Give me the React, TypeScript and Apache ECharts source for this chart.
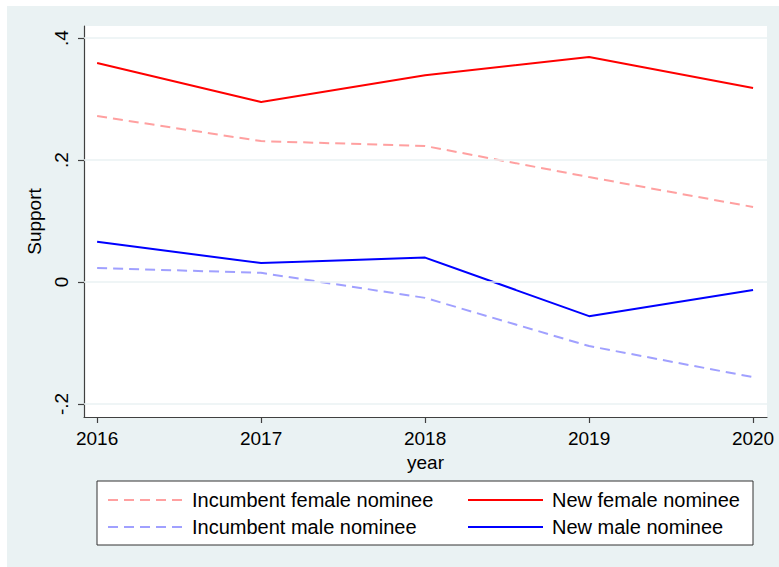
import React, { useEffect, useRef } from "react";
import * as echarts from "echarts";

const years = [2016, 2017, 2018, 2019, 2020];
const incumbentFemale = [0.272, 0.231, 0.223, 0.172, 0.123];
const newFemale = [0.359, 0.295, 0.339, 0.369, 0.318];
const incumbentMale = [0.023, 0.015, -0.026, -0.105, -0.156];
const newMale = [0.066, 0.031, 0.040, -0.056, -0.013];
const yTicks = [-0.2, 0, 0.2, 0.4];
const yTickLabels = ["-.2", "0", ".2", ".4"];

const FONT = "'Liberation Sans', Arial, sans-serif";

export default function App() {
  const ref = useRef<HTMLDivElement>(null);
  useEffect(() => {
    if (!ref.current) return;
    const chart = echarts.init(ref.current, undefined, { renderer: "svg" });
    const pair = (arr: number[]) => years.map((y, i) => [y, arr[i]]);
    const mkLegend = (name: string, left: number, top: number) => ({
      show: true,
      data: [name],
      left,
      top,
      itemWidth: 75,
      itemHeight: 14,
      padding: 0,
      itemStyle: { opacity: 0, borderWidth: 0 },
      textStyle: { fontFamily: FONT, fontSize: 20, color: "#000", padding: [0, 0, 0, 4] },
    });
    chart.setOption({
      animation: false,
      backgroundColor: "#EAF2F3",
      textStyle: { fontFamily: FONT },
      grid: {
        left: 77,
        top: 20,
        right: 12,
        bottom: 150,
        show: true,
        backgroundColor: "#ffffff",
        borderWidth: 0,
        containLabel: false,
      },
      graphic: [
        {
          type: "rect",
          shape: { x: 90, y: 475, width: 656, height: 64 },
          style: { fill: "#ffffff", stroke: "#333333", lineWidth: 1 },
          z: 0,
        },
      ],
      legend: [
        mkLegend("Incumbent female nominee", 100, 484),
        mkLegend("New female nominee", 460, 484),
        mkLegend("Incumbent male nominee", 100, 511),
        mkLegend("New male nominee", 460, 511),
      ],
      xAxis: {
        type: "value",
        min: 2015.92,
        max: 2020.085,
        name: "year",
        nameLocation: "middle",
        nameGap: 35,
        nameTextStyle: { fontFamily: FONT, fontSize: 19, color: "#000" },
        axisLine: { show: true, onZero: false, lineStyle: { color: "#404040", width: 1.2 } },
        axisTick: { show: true, length: 6, customValues: years, lineStyle: { color: "#404040", width: 1.2 } },
        axisLabel: {
          customValues: years,
          formatter: (v: number) => String(v),
          fontFamily: FONT,
          fontSize: 19,
          color: "#000",
          margin: 12,
        },
        splitLine: { show: false },
      },
      yAxis: {
        type: "value",
        min: -0.2213,
        max: 0.4197,
        name: "Support",
        nameLocation: "middle",
        nameGap: 34,
        nameTextStyle: { fontFamily: FONT, fontSize: 19, color: "#000" },
        axisLine: { show: true, onZero: false, lineStyle: { color: "#404040", width: 1.2 } },
        axisTick: { show: true, length: 6, customValues: yTicks, lineStyle: { color: "#404040", width: 1.2 } },
        axisLabel: {
          customValues: yTicks,
          formatter: (v: number) => {
            const i = yTicks.findIndex((t) => Math.abs(t - v) < 1e-9);
            return i >= 0 ? yTickLabels[i] : "";
          },
          rotate: 90,
          fontFamily: FONT,
          fontSize: 19,
          color: "#000",
          margin: 13,
        },
        splitLine: { show: false },
      },
      series: [
        {
          type: "line",
          name: "gridlines",
          data: [],
          z: 1,
          silent: true,
          markLine: {
            silent: true,
            symbol: "none",
            label: { show: false },
            lineStyle: { color: "#EAF2F3", width: 1.5, type: "solid" },
            data: yTicks.map((v) => ({ yAxis: v })),
          },
        },
        {
          type: "line",
          name: "Incumbent female nominee",
          data: pair(incumbentFemale),
          symbol: "none",
          z: 3,
          color: "#FFA0A0",
          lineStyle: { color: "#FFA0A0", width: 2, type: [10, 6] },
        },
        {
          type: "line",
          name: "New female nominee",
          data: pair(newFemale),
          symbol: "none",
          z: 3,
          color: "#FF0000",
          lineStyle: { color: "#FF0000", width: 2, type: "solid" },
        },
        {
          type: "line",
          name: "Incumbent male nominee",
          data: pair(incumbentMale),
          symbol: "none",
          z: 3,
          color: "#A0A0FF",
          lineStyle: { color: "#A0A0FF", width: 2, type: [10, 6] },
        },
        {
          type: "line",
          name: "New male nominee",
          data: pair(newMale),
          symbol: "none",
          z: 3,
          color: "#0000FF",
          lineStyle: { color: "#0000FF", width: 2, type: "solid" },
        },
      ],
    });
    return () => chart.dispose();
  }, []);
  return (
    <div
      ref={ref}
      style={{ position: "fixed", left: 7, top: 6, width: 772, height: 561 }}
    />
  );
}
